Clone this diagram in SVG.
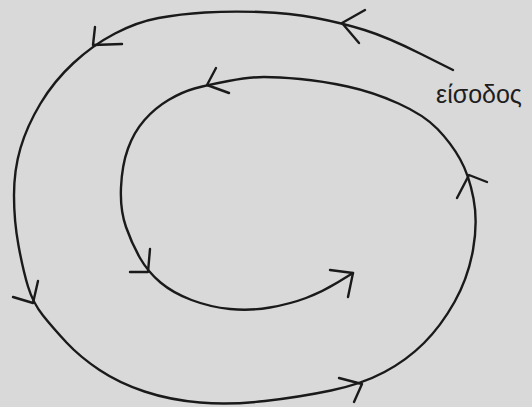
<svg xmlns="http://www.w3.org/2000/svg" width="532" height="407" viewBox="0 0 532 407">
  <style>
    .bg { fill: #d9d9d9; }
    .line { fill: none; stroke: #1a1a1a; stroke-width: 2.4; stroke-linecap: round; stroke-linejoin: round; }
    .label { font-family: "Liberation Sans", Arial, sans-serif; font-size: 25px; fill: #1e1e1e; }
  </style>
  <rect class="bg" x="0" y="0" width="532" height="407"/>
  <g id="connectors">
    <path id="spiral" class="line" d="M453,70 L420,53.5 Q387,37 364.5,30 Q342,23 316,18 Q290,13 260,12 Q230,11 205,12.5 Q180,14 158.5,18 Q137,22 115,33.5 Q93,45 73.5,63 Q54,81 40.5,103.5 Q27,126 20.5,148 Q14,170 14,195.5 Q14,221 18.5,245.5 Q23,270 28,286.5 Q33,303 43,315.5 Q53,328 66.5,342.5 Q80,357 99.5,370 Q119,383 144.5,391.5 Q170,400 200,402.5 Q230,405 265,401 Q300,397 331,390.5 Q362,384 384.5,372 Q407,360 424,343 Q441,326 454.5,302 Q468,278 473,250 Q478,222 473.5,198.5 Q469,175 460,159 Q451,143 437.5,129 Q424,115 398.5,103.5 Q373,92 347.5,86.5 Q322,81 300,79 Q278,77 264,77 Q250,77 228.5,81 Q207,85 194.5,88.5 Q182,92 168.5,100 Q155,108 144.5,120 Q134,132 128,148.5 Q122,165 121,187.5 Q120,210 126,227 Q132,244 140,258 Q148,272 160.5,282.5 Q173,293 191.5,300 Q210,307 230,309 Q250,311 270,307.5 Q290,304 306,298 Q322,292 337.5,282.5 L353,273"/>
    <polyline class="line" points="365,10 342,23 359,43"/>
    <polyline class="line" points="95,27 93,45 122,44"/>
    <polyline class="line" points="13,297 33,303 38,281"/>
    <polyline class="line" points="339,378 362,384 354,402"/>
    <polyline class="line" points="487,182 469,175 457,198"/>
    <polyline class="line" points="216,68 207,85 229,93"/>
    <polyline class="line" points="150,249 148,272 130,272"/>
    <polyline class="line" points="330,270 353,273 348,297"/>
  </g>
  <g id="entry-label">
    <text class="label" x="436" y="103">είσοδος</text>
  </g>
</svg>
